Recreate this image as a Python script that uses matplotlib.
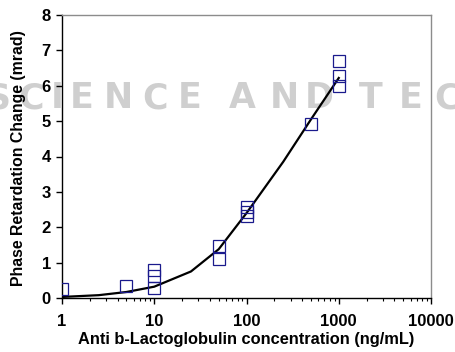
import matplotlib
matplotlib.use("Agg")
import matplotlib.pyplot as plt
from matplotlib.ticker import LogLocator, FixedLocator, NullFormatter

# Measured points
conc = [1, 5, 10, 10, 10, 50, 50, 100, 100, 100, 500, 1000, 1000, 1000]
phase = [0.25, 0.35, 0.78, 0.63, 0.27, 1.48, 1.10, 2.56, 2.43, 2.33, 4.92, 6.71, 6.27, 6.00]

# Fitted curve
fit_conc = [1, 2.5, 5, 10, 25, 50, 100, 250, 500, 1000]
fit_phase = [0.03, 0.08, 0.17, 0.32, 0.75, 1.38, 2.40, 3.85, 5.05, 6.22]

x_ticks = [1, 10, 100, 1000, 10000]
x_tick_labels = ["1", "10", "100", "1000", "10000"]
y_ticks = [0, 1, 2, 3, 4, 5, 6, 7, 8]

# background watermark letters and their centre positions (pixels)
wm_letters = list("SCIENCEANDTEC")
wm_centres = [-2, 31, 57, 82, 118, 155, 190, 242, 284, 319, 371, 411, 447]

plt.rcParams['font.family'] = ['Liberation Sans', 'DejaVu Sans']

W, H = 455, 352
fig = plt.figure(figsize=(W / 100, H / 100), dpi=100)

wm = '#cfcfcf'
wy = 1 - 98.5 / H
for ch, cx in zip(wm_letters, wm_centres):
    fig.text(cx / W, wy, ch, fontsize=25, color=wm, fontweight='bold',
             family='DejaVu Sans', va='center', ha='center', zorder=-5)

ax = fig.add_axes([62 / W, 1 - 298 / H, (431 - 62) / W, (298 - 15) / H])
ax.patch.set_alpha(0)

ax.plot(fit_conc, fit_phase, color='black', lw=1.6, zorder=2)
ax.plot(conc, phase, linestyle='none', marker='s', markersize=8.3,
        markerfacecolor='none', markeredgecolor='#1a1a8c', markeredgewidth=0.9, zorder=3)

ax.set_xscale('log')
ax.set_xlim(1, 10000)
ax.set_ylim(0, 8)
ax.xaxis.set_major_locator(FixedLocator(x_ticks))
ax.set_xticklabels(x_tick_labels)
ax.xaxis.set_minor_locator(LogLocator(base=10, subs=range(2, 10), numticks=20))
ax.xaxis.set_minor_formatter(NullFormatter())
ax.set_yticks(y_ticks)

for s in ['top', 'right']:
    ax.spines[s].set_color('#8c8c8c')
    ax.spines[s].set_linewidth(1.0)
for s in ['left', 'bottom']:
    ax.spines[s].set_color('black')
    ax.spines[s].set_linewidth(1.0)

ax.tick_params(axis='y', which='major', direction='out', length=4, width=1,
               labelsize=12, pad=4)
ax.tick_params(axis='x', which='major', direction='out', length=4.5, width=1,
               labelsize=12, pad=7)
ax.tick_params(axis='x', which='minor', direction='out', length=2.5, width=0.8)
for lab in ax.get_xticklabels() + ax.get_yticklabels():
    lab.set_fontweight('bold')

ax.set_xlabel("Anti b-Lactoglobulin concentration (ng/mL)", fontsize=11.8,
              fontweight='bold')
ax.set_ylabel("Phase Retardation Change (mrad)", fontsize=11.4,
              fontweight='bold')
ax.xaxis.set_label_coords(0.5, (298 - 332) / 283)
ax.yaxis.set_label_coords((26 - 62) / 369, 0.493)

fig.savefig("out.png", dpi=100)
